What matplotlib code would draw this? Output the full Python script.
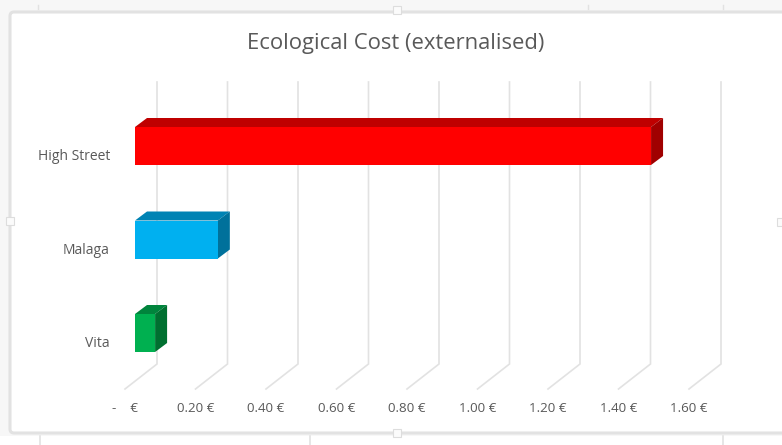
import matplotlib
matplotlib.use("Agg")
import matplotlib.pyplot as plt
from matplotlib.patches import Polygon, FancyBboxPatch, Rectangle

plt.rcParams['font.family'] = ['Open Sans', 'DejaVu Sans']

categories = ["High Street", "Malaga", "Vita"]
costs = [1.464, 0.235, 0.057]
ticks = [0.0, 0.2, 0.4, 0.6, 0.8, 1.0, 1.2, 1.4, 1.6]
tick_labels = ["-    €", "0.20 €", "0.40 €", "0.60 €", "0.80 €", "1.00 €", "1.20 €", "1.40 €", "1.60 €"]
front_colors = ["#ff0000", "#00b0f0", "#00b050"]
top_colors = ["#bf0000", "#0083b4", "#00843c"]
side_colors = ["#a00000", "#00719b", "#007030"]

W, H = 782, 445
PX_EUR = 352.5   # pixels per euro
PX_CAT = 93.5    # pixels per category
X0, Y0 = 135, 146  # pixel of value 0, first category

fig = plt.figure(figsize=(W / 100, H / 100), dpi=100, facecolor="#f7f7f7")

# window chrome, in pixels
chrome = fig.add_axes([0, 0, 1, 1])
chrome.set_xlim(0, W)
chrome.set_ylim(H, 0)
chrome.axis("off")
chrome.add_patch(Rectangle((0, 436), W, 9, fc="white", ec="none"))
chrome.add_patch(FancyBboxPatch((10, 12), 790, 421, boxstyle="round,pad=0,rounding_size=4",
                                fc="white", ec="#e2e2e2", lw=2.2))
for x, y in [(397, 10), (397, 433), (10, 221), (781, 222)]:
    chrome.add_patch(Rectangle((x - 4, y - 4), 8, 8, fc="#fbfbfb", ec="#dddddd", lw=0.8, zorder=3))
for x in [38, 588, 723]:
    chrome.plot([x, x], [5, 9], color="#e2e2e2", lw=1)
for x in [40, 310, 723]:
    chrome.plot([x, x], [436, 445], color="#e2e2e2", lw=1.2)

# chart axes: x in euros, y in category index
ax = fig.add_axes([0, 0, 1, 1])
ax.patch.set_alpha(0)
ax.set_xlim(-X0 / PX_EUR, (W - X0) / PX_EUR)
ax.set_ylim((H - Y0) / PX_CAT, -Y0 / PX_CAT)
ax.axis("off")


def dx(px):
    return px / PX_EUR


def dy(px):
    return px / PX_CAT


# walls and floor lines
for t, lab in zip(ticks, tick_labels):
    ax.plot([t + dx(-10), t + dx(22), t + dx(22)], [dy(243), dy(218), dy(-64)],
            color="#e2e2e2", lw=1.2, solid_joinstyle="miter")
    ax.text(t + dx(-10), dy(262), lab, ha="center", va="center", fontsize=9.6, color="#595959")

# bars
half = dy(19)
for i, (name, v) in enumerate(zip(categories, costs)):
    ox, oy = dx(12), dy(-9)
    ax.add_patch(Polygon([(0, i - half), (v, i - half), (v + ox, i - half + oy), (ox, i - half + oy)],
                         fc=top_colors[i], ec="none", zorder=3))
    ax.add_patch(Polygon([(v, i - half), (v, i + half), (v + ox, i + half + oy), (v + ox, i - half + oy)],
                         fc=side_colors[i], ec="none", zorder=3))
    ax.add_patch(Polygon([(0, i - half), (v, i - half), (v, i + half), (0, i + half)],
                         fc=front_colors[i], ec="none", zorder=4))
    ax.text(dx(-25), i + dy(14), name, ha="right", va="baseline", fontsize=10, color="#595959")

fig.text(396 / W, 1 - 43.5 / H, "Ecological Cost (externalised)", ha="center", va="center",
         fontsize=15.8, color="#595959")

fig.savefig("out.png", dpi=100, facecolor=fig.get_facecolor())
